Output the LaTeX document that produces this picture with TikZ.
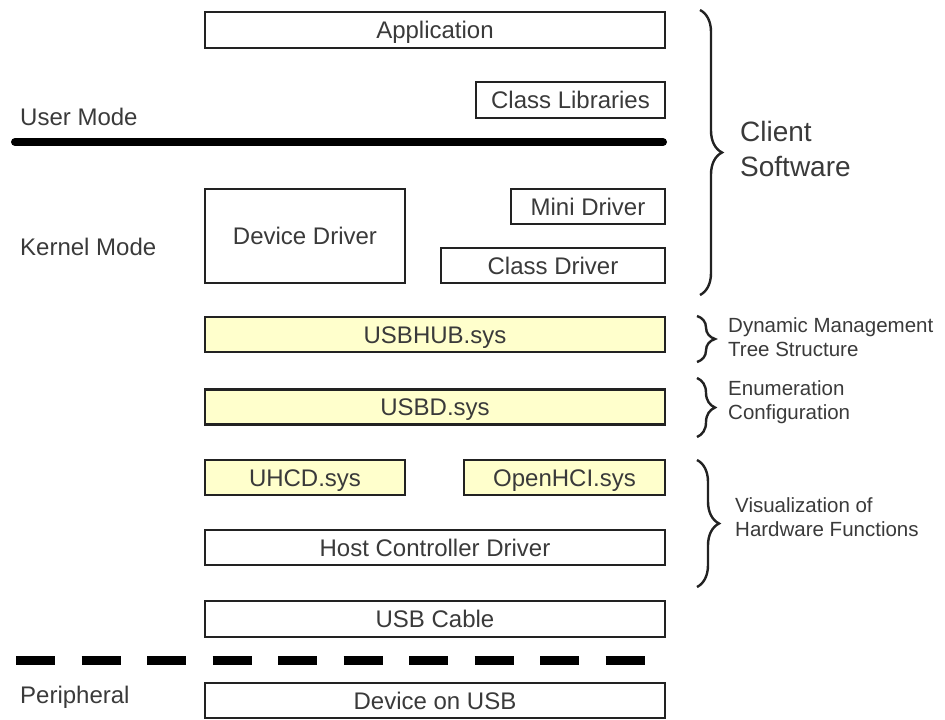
\documentclass[tikz,border=0pt]{standalone}
\usepackage{fontspec}
\setmainfont{Liberation Sans}
\usetikzlibrary{decorations.pathreplacing}
\definecolor{txt}{HTML}{3A3A3A}
\definecolor{edge}{HTML}{222222}
\definecolor{sysyellow}{HTML}{FFFFCC}
\tikzset{
  box/.style={draw=edge, line width=2.4pt, fill=white, text=txt, inner sep=0pt,
    font=\fontsize{24}{28}\selectfont, text height=17pt, text depth=0pt},
  sysbox/.style={box, fill=sysyellow},
  sidelabel/.style={anchor=base west, inner sep=0pt, text=txt, font=\fontsize{24}{28}\selectfont},
  bracelabel/.style={anchor=north west, inner sep=0pt, text=txt, align=left,
    font=\fontsize{20.5}{24}\selectfont},
  bracebig/.style={draw=edge, line width=2.4pt, decorate,
    decoration={brace, amplitude=#1}},
}
\begin{document}
\begin{tikzpicture}[x=1pt, y=-1pt]
\useasboundingbox (0,0) rectangle (945,720);

% boxes
\node[box, minimum width=460pt, minimum height=36pt] (app) at (435,30) {Application};
\node[box, minimum width=189pt, minimum height=36pt] (classlib) at (570.5,100) {Class Libraries};
\node[box, minimum width=200pt, minimum height=94pt] (devdrv) at (305,236) {Device Driver};
\node[box, minimum width=154pt, minimum height=35pt] (mini) at (588,206.5) {Mini Driver};
\node[box, minimum width=224pt, minimum height=35pt] (classdrv) at (553,265.5) {Class Driver};
\node[sysbox, minimum width=460pt, minimum height=35pt] (usbhub) at (435,334.5) {USBHUB.sys};
\node[sysbox, minimum width=460pt, minimum height=35pt] (usbd) at (435,407) {USBD.sys};
\node[sysbox, minimum width=200pt, minimum height=35pt] (uhcd) at (305,477.5) {UHCD.sys};
\node[sysbox, minimum width=201pt, minimum height=35pt] (ohci) at (564.5,477.5) {OpenHCI.sys};
\node[box, minimum width=460pt, minimum height=35pt] (hcd) at (435,547.5) {Host Controller Driver};
\node[box, minimum width=460pt, minimum height=36pt] (cable) at (435,619) {USB Cable};
\node[box, minimum width=460pt, minimum height=35pt] (dev) at (435,700.5) {Device on USB};

% mode separators
\coordinate (um1) at (15,142);
\coordinate (um2) at (663,142);
\draw[line width=8pt, line cap=round, color=black] (um1) -- (um2);
\coordinate (pd1) at (16,660);
\coordinate (pd2) at (645,660);
\draw[line width=9pt, color=black, dash pattern=on 39pt off 26.5pt] (pd1) -- (pd2);

% left labels
\node[sidelabel] (user) at (20,125) {User Mode};
\node[sidelabel] (kernel) at (20,255) {Kernel Mode};
\node[sidelabel] (periph) at (20,703) {Peripheral};

% braces
\coordinate (b1a) at (700,10);  \coordinate (b1b) at (700,295);
\draw[bracebig=22pt] (b1a) -- (b1b);
\node[bracelabel, font=\fontsize{28}{35}\selectfont] (client) at (740,121) {Client\\Software};

\coordinate (b2a) at (697,316); \coordinate (b2b) at (697,362);
\draw[bracebig=18pt] (b2a) -- (b2b);
\node[bracelabel] (dyn) at (728,317) {Dynamic Management\\Tree Structure};

\coordinate (b3a) at (697,378); \coordinate (b3b) at (697,437);
\draw[bracebig=18pt] (b3a) -- (b3b);
\node[bracelabel] (enum) at (728,380) {Enumeration\\Configuration};

\coordinate (b4a) at (697,460); \coordinate (b4b) at (697,587);
\draw[bracebig=22pt] (b4a) -- (b4b);
\node[bracelabel] (vis) at (735,497) {Visualization of\\Hardware Functions};

\end{tikzpicture}
\end{document}
